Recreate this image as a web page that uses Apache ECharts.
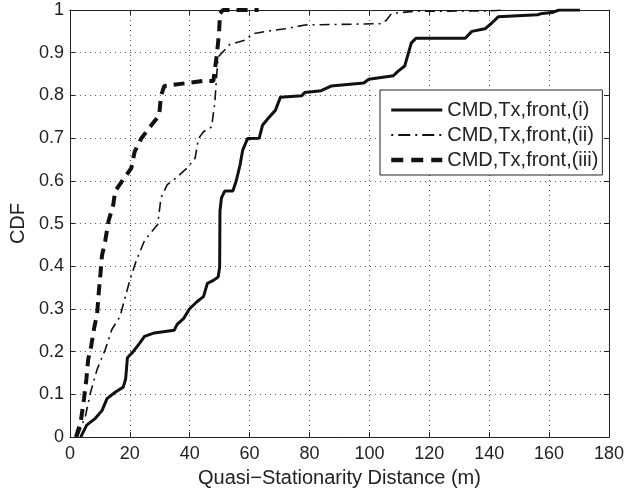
<!DOCTYPE html>
<html>
<head>
<meta charset="utf-8">
<script src="https://cdn.jsdelivr.net/npm/echarts@6/dist/echarts.min.js"></script>
<style>
html,body{margin:0;padding:0;background:#fff;}
#chart{width:627px;height:493px;}
</style>
</head>
<body>
<div id="chart"></div>
<script>
// Series (i) solid
var x1 = [3.6, 5.6, 8.5, 10.7, 12.4, 15.1, 17.8, 18.6, 19.2, 21.1, 23.3, 24.9, 28.2, 34.8, 35.8, 38, 39.9, 42.4, 44.6, 45.9, 47.9, 49.5, 50.0, 50.1, 50.6, 51.7, 54.4, 55.5, 56.8, 57.7, 59.3, 63.2, 64.3, 66.5, 68.6, 70.3, 77.4, 78.4, 83.9, 87.2, 98.1, 99.8, 108, 109.6, 111.8, 112.9, 114, 115.6, 132, 134.2, 138.6, 140.8, 143, 156.1, 157.7, 161, 163.3, 170.3];
var y1 = [0, 0.028, 0.044, 0.062, 0.09, 0.105, 0.117, 0.136, 0.186, 0.2, 0.22, 0.236, 0.244, 0.25, 0.264, 0.278, 0.30, 0.317, 0.329, 0.36, 0.367, 0.375, 0.398, 0.529, 0.56, 0.576, 0.576, 0.599, 0.637, 0.672, 0.699, 0.70, 0.73, 0.749, 0.765, 0.796, 0.799, 0.807, 0.811, 0.822, 0.829, 0.838, 0.846, 0.857, 0.869, 0.896, 0.923, 0.934, 0.934, 0.95, 0.956, 0.969, 0.984, 0.989, 0.992, 0.994, 1.0, 1.0];
// Series (ii) dash-dot
var x2 = [2.5, 5.2, 6.9, 9.1, 11.8, 14, 16.7, 20, 22.2, 24.9, 29.3, 30.4, 32.5, 34.8, 39.1, 41.8, 42.9, 44.6, 47.3, 48.4, 49, 49.5, 53.3, 58.8, 61, 65.4, 71.9, 78.5, 87.2, 104.2, 105.8, 107.4, 115, 140, 145];
var y2 = [0, 0.05, 0.105, 0.159, 0.205, 0.252, 0.282, 0.367, 0.414, 0.46, 0.498, 0.56, 0.591, 0.603, 0.63, 0.653, 0.699, 0.715, 0.726, 0.784, 0.846, 0.89, 0.919, 0.93, 0.944, 0.95, 0.956, 0.965, 0.966, 0.968, 0.977, 0.992, 0.997, 0.998, 1.0];
// Series (iii) dashed
var x3 = [2, 3.6, 4.7, 5.5, 6.1, 7.1, 8, 9.1, 9.6, 10.2, 10.7, 11.8, 12.9, 14.5, 15.1, 17.8, 20.5, 21.6, 23.8, 27.6, 29.8, 30.4, 31.5, 44.6, 47.9, 49, 49.8, 50.1, 51.1, 63];
var y3 = [0, 0.035, 0.09, 0.136, 0.182, 0.213, 0.252, 0.29, 0.336, 0.383, 0.425, 0.46, 0.506, 0.545, 0.576, 0.603, 0.63, 0.668, 0.699, 0.734, 0.753, 0.799, 0.822, 0.834, 0.834, 0.892, 0.946, 0.992, 1.0, 1.0];

var names = ['CMD,Tx,front,(i)', 'CMD,Tx,front,(ii)', 'CMD,Tx,front,(iii)'];
var xTicks = [0, 20, 40, 60, 80, 100, 120, 140, 160, 180];
var yTicks = [0, 0.1, 0.2, 0.3, 0.4, 0.5, 0.6, 0.7, 0.8, 0.9, 1];

function pairs(xs, ys) { return xs.map(function (v, i) { return [v, ys[i]]; }); }

var FONT = '"Liberation Sans", Arial, Helvetica, sans-serif';
var AX = '#222';
var LINE = '#111';
var styles = [
  {width: 3, type: 'solid'},
  {width: 1.6, type: [10, 5, 2, 5]},
  {width: 4, type: [11, 7]}
];
var legendStyles = [
  {width: 3, type: 'solid'},
  {width: 2, type: [2, 5, 12, 5]},
  {width: 4.5, type: [12, 8]}
];
var chart = echarts.init(document.getElementById('chart'), null, {renderer: 'canvas'});

function baseAxis(extra) {
  var o = {
    type: 'value',
    axisLine: {show: true, onZero: false, lineStyle: {color: AX, width: 1}},
    axisTick: {show: true, inside: true, length: 5, lineStyle: {color: AX}},
    splitLine: {show: false},
    axisLabel: {show: false}
  };
  for (var k in extra) o[k] = extra[k];
  return o;
}

chart.setOption({
  animation: false,
  backgroundColor: '#fff',
  grid: {left: 64, top: 10, right: 14, bottom: 51, containLabel: false},
  xAxis: [
    baseAxis({
      min: xTicks[0], max: xTicks[xTicks.length - 1], interval: 20, position: 'bottom',
      axisLabel: {show: true, fontSize: 18, color: AX, fontFamily: FONT, margin: 8},
      splitLine: {show: true, lineStyle: {type: [1, 4], color: '#555', width: 1}},
      name: 'Quasi\u2212Stationarity Distance (m)', nameLocation: 'middle', nameGap: 28,
      nameTextStyle: {fontSize: 20, color: AX, fontFamily: FONT}
    }),
    baseAxis({min: xTicks[0], max: xTicks[xTicks.length - 1], interval: 20, position: 'top'})
  ],
  yAxis: [
    baseAxis({
      min: yTicks[0], max: yTicks[yTicks.length - 1], interval: 0.1, position: 'left',
      axisLabel: {show: true, fontSize: 18, color: AX, fontFamily: FONT, margin: 6},
      splitLine: {show: true, lineStyle: {type: [1, 4], color: '#555', width: 1}},
      name: 'CDF', nameLocation: 'middle', nameGap: 40,
      nameTextStyle: {fontSize: 20, color: AX, fontFamily: FONT}
    }),
    baseAxis({min: yTicks[0], max: yTicks[yTicks.length - 1], interval: 0.1, position: 'right'})
  ],
  legend: {
    data: names.map(function (n, i) {
      return {name: n, lineStyle: {color: LINE, width: legendStyles[i].width, type: legendStyles[i].type}};
    }),
    orient: 'vertical',
    left: 380, top: 90,
    itemWidth: 51, itemHeight: 20, itemGap: 5,
    padding: [10, 4, 5, 9],
    borderColor: AX, borderWidth: 1, borderRadius: 0,
    backgroundColor: '#fff',
    itemStyle: {opacity: 0},
    textStyle: {fontSize: 20, color: AX, fontFamily: FONT, lineHeight: 20}
  },
  series: names.map(function (n, i) {
    var d = [pairs(x1, y1), pairs(x2, y2), pairs(x3, y3)][i];
    return {name: n, type: 'line', data: d, symbol: 'none', color: LINE,
      lineStyle: {color: LINE, width: styles[i].width, type: styles[i].type}, z: 3};
  })
});
</script>
</body>
</html>
